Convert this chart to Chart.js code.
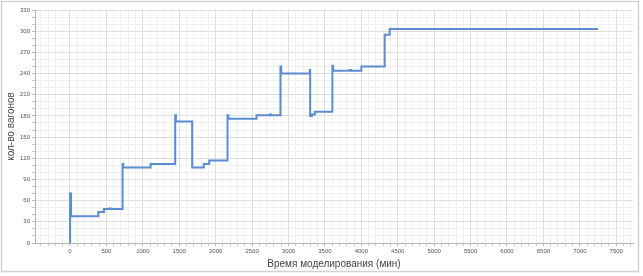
<!DOCTYPE html>
<html>
<head>
<meta charset="utf-8">
<script src="https://cdn.jsdelivr.net/npm/chart.js@4/dist/chart.umd.min.js"></script>
<style>
    body { margin: 0; background: #fff; }
    #wrap { position: relative; width: 643px; height: 276px; }
</style>
</head>
<body>
<div id="wrap"><canvas id="line_chartWagons" width="643" height="276"></canvas></div>
<script>
// время (мин) и кол-во вагонов
var timeMin = [0, 2, 15, 390, 466, 540, 560, 722, 732, 1107, 1445, 1455, 1678, 1838, 1911, 2163, 2175,
    2561, 2740, 2760, 2890, 2900, 3292, 3298, 3320, 3361, 3603, 3613, 3840, 3860, 4001, 4321, 4390, 7250];
var wagons = [0, 70, 38, 44, 48, 49, 48, 112, 107, 112, 181, 172, 107, 112, 117, 181, 176,
    181, 182, 181, 250, 240, 245, 180, 182, 186, 251, 244, 245, 244, 250, 295, 303, 303];

var xTicks = [0, 500, 1000, 1500, 2000, 2500, 3000, 3500, 4000, 4500, 5000, 5500, 6000, 6500, 7000, 7500];
var yTicks = [0, 30, 60, 90, 120, 150, 180, 210, 240, 270, 300, 330];
var xMin = -480, xMax = 7730, xMinorStep = 100;
var yMin = 0, yMax = 330, yMinorStep = 10;

var titleX = "Время моделирования (мин)";
var titleY = "кол-во вагонов";

var lineColor = "#5b8ccf";
var gridMajor = "#dedede";
var gridMinor = "#f0f0f0";
var textColor = "#555";
var fontName = "Liberation Sans";

var framePlugin = {
    id: 'frame',
    beforeDraw: function (chart) {
        var ctx = chart.ctx;
        ctx.save();
        ctx.fillStyle = "#fff";
        ctx.fillRect(0, 0, chart.width, chart.height);
        ctx.strokeStyle = "#d2d2d2";
        ctx.lineWidth = 1.5;
        ctx.strokeRect(1.5, 1.5, 637, 270);
        ctx.restore();
    }
};

function minorTicks(min, max, step) {
    var list = [];
    for (var v = Math.ceil(min / step) * step; v <= max; v += step) list.push({value: v});
    return list;
}

function minorAxis(min, max, step, pos) {
    return {
        type: 'linear', position: pos, min: min, max: max, weight: -1,
        afterBuildTicks: function (scale) { scale.ticks = minorTicks(min, max, step); },
        afterFit: function (scale) {
            if (pos === 'bottom') scale.height = 0; else scale.width = 0;
        },
        grid: {color: gridMinor, tickColor: "#c8c8c8", tickLength: 3},
        border: {display: false},
        ticks: {autoSkip: false, display: false}
    };
}

function renderChart() {
    var points = [];
    for (var i = 0; i < timeMin.length; i++) {
        points.push({x: timeMin[i], y: wagons[i]});
    }
    new Chart(document.getElementById("line_chartWagons").getContext("2d"), {
        type: 'line',
        data: {
            datasets: [{
                data: points,
                borderColor: lineColor,
                borderWidth: 2,
                pointRadius: 0,
                stepped: true,
                fill: false
            }]
        },
        plugins: [framePlugin],
        options: {
            responsive: false,
            animation: false,
            layout: {padding: {left: 5, top: 10, right: 10, bottom: 6}},
            plugins: {legend: {display: false}, tooltip: {enabled: false}},
            scales: {
                x2: minorAxis(xMin, xMax, xMinorStep, 'bottom'),
                y2: minorAxis(yMin, yMax, yMinorStep, 'left'),
                x: {
                    type: 'linear',
                    position: 'bottom',
                    min: xMin, max: xMax,
                    afterBuildTicks: function (scale) {
                        scale.ticks = xTicks.map(function (v) { return {value: v}; });
                    },
                    afterFit: function (scale) { scale.height = 27; },
                    grid: {color: gridMajor, tickColor: "#bbb", tickLength: 3},
                    border: {color: "#b5b5b5"},
                    ticks: {
                        autoSkip: false,
                        maxRotation: 0,
                        padding: 2,
                        color: textColor,
                        font: {family: fontName, size: 6},
                        callback: function (v) { return String(v); }
                    },
                    title: {
                        display: true, text: titleX, color: "#444",
                        font: {family: fontName, size: 10},
                        padding: {top: 2, bottom: 0}
                    }
                },
                y: {
                    position: 'left',
                    min: yMin, max: yMax,
                    afterBuildTicks: function (scale) {
                        scale.ticks = yTicks.map(function (v) { return {value: v}; });
                    },
                    afterFit: function (scale) { scale.width = 30; },
                    grid: {color: gridMajor, tickColor: "#bbb", tickLength: 3},
                    border: {color: "#b5b5b5"},
                    ticks: {
                        autoSkip: false,
                        padding: 2,
                        color: textColor,
                        font: {family: fontName, size: 6}
                    },
                    title: {
                        display: true, text: titleY, color: "#444",
                        font: {family: fontName, size: 10},
                        padding: {top: 0, bottom: 2}
                    }
                }
            }
        }
    });
}

renderChart();
</script>
</body>
</html>
